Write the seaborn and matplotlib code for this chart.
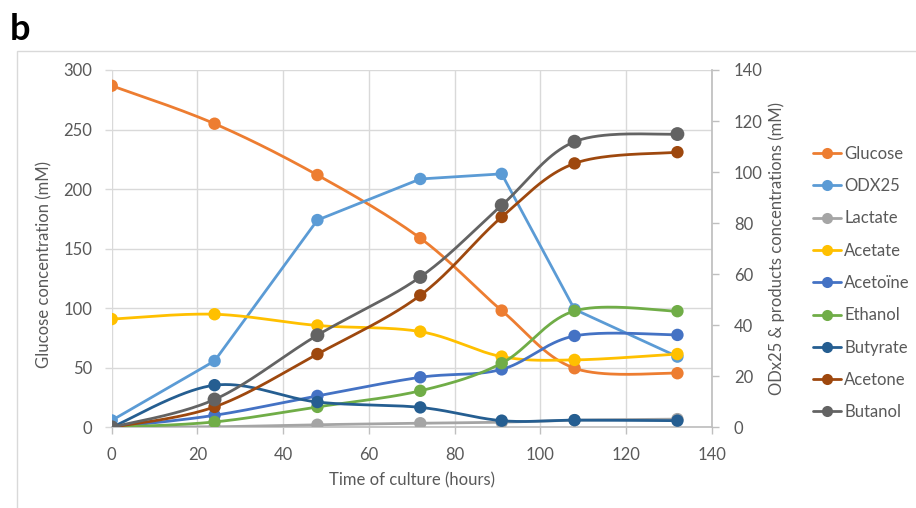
import numpy as np
import pandas as pd
import matplotlib
matplotlib.use("Agg")
import matplotlib.pyplot as plt
from matplotlib.lines import Line2D
from matplotlib.patches import Rectangle
import seaborn as sns

# Sampling times (hours)
times = [0, 24, 48, 72, 91, 108, 132]

# Glucose on the left axis (mM)
glucose = [286.8, 254.9, 211.8, 158.8, 98.0, 49.6, 45.4]

# OD and products on the right axis (mM)
odx25 = [2.7, 26.0, 81.2, 97.3, 99.3, 46.2, 27.7]
lactate = [0.0, 0.2, 1.0, 1.6, 2.0, 2.8, 3.2]
acetate = [42.4, 44.3, 39.9, 37.5, 27.7, 26.4, 28.7]
acetoine = [0.0, 4.7, 12.3, 19.6, 22.7, 35.8, 36.2]
ethanol = [0.0, 2.1, 8.0, 14.3, 25.1, 45.6, 45.5]
butyrate = [0.0, 16.5, 9.9, 7.8, 2.6, 2.8, 2.6]
acetone = [0.0, 8.0, 28.7, 51.7, 82.4, 103.4, 107.8]
butanol = [0.0, 10.9, 36.1, 58.9, 87.0, 111.9, 114.9]

series_names = ["Glucose", "ODX25", "Lactate", "Acetate", "Acetoïne",
                "Ethanol", "Butyrate", "Acetone", "Butanol"]
series_values = [glucose, odx25, lactate, acetate, acetoine,
                 ethanol, butyrate, acetone, butanol]
series_colors = ["#ED7D31", "#5B9BD5", "#A5A5A5", "#FFC000", "#4472C4",
                 "#70AD47", "#255E91", "#9E480E", "#636363"]
smoothed = [True, False, True, True, True, True, True, True, True]

x_ticks = [0, 20, 40, 60, 80, 100, 120, 140]
left_ticks = [0, 50, 100, 150, 200, 250, 300]
right_ticks = [0, 20, 40, 60, 80, 100, 120, 140]


def smooth_curve(xs, ys, n=40):
    """Cubic Bezier through the points, Catmull-Rom style tangents."""
    p = np.column_stack([xs, ys]).astype(float)
    ext = np.vstack([p[0], p, p[-1]])
    t = np.linspace(0, 1, n)[:, None]
    out = []
    for i in range(len(p) - 1):
        p0, p1 = ext[i + 1], ext[i + 2]
        c1 = p0 + (ext[i + 2] - ext[i]) / 6.0
        c2 = p1 - (ext[i + 3] - ext[i + 1]) / 6.0
        seg = ((1 - t) ** 3) * p0 + 3 * ((1 - t) ** 2) * t * c1 \
            + 3 * (1 - t) * t ** 2 * c2 + t ** 3 * p1
        out.append(seg if i == 0 else seg[1:])
    seg = np.vstack(out)
    return seg[:, 0], seg[:, 1]


sns.set_theme(style="white")
plt.rcParams["font.family"] = ["Lato", "DejaVu Sans"]
text_color = "#595959"
grid_color = "#D9D9D9"
axis_color = "#BFBFBF"

fig = plt.figure(figsize=(9.16, 5.08), dpi=100)
ax = fig.add_axes([111.7 / 916, 1 - 427.3 / 508, 600 / 916, 357.3 / 508])
ax2 = ax.twinx()

# Outer chart border
fig.patches.append(Rectangle((17 / 916, -0.1), 1.1, 1 - 51 / 508 + 0.1,
                             transform=fig.transFigure, fill=False,
                             edgecolor=grid_color, lw=1.0))

for i, (name, vals, col, sm) in enumerate(zip(series_names, series_values,
                                              series_colors, smoothed)):
    target = ax if name == "Glucose" else ax2
    if sm:
        cx, cy = smooth_curve(times, vals)
    else:
        cx, cy = np.array(times, float), np.array(vals, float)
    curve = pd.DataFrame({"t": cx, "v": cy})
    pts = pd.DataFrame({"t": times, "v": vals})
    sns.lineplot(data=curve, x="t", y="v", ax=target, color=col, lw=2.0,
                 sort=False, estimator=None, zorder=3 + 2 * i, legend=False)
    msize = 100 if name == "Butanol" else 80
    sns.scatterplot(data=pts, x="t", y="v", ax=target, color=col, s=msize,
                    edgecolor="none", linewidth=0, zorder=4 + 2 * i,
                    legend=False)

ax.set_xlim(0, 140)
ax.set_ylim(0, 300)
ax2.set_ylim(0, 140)
ax.set_xticks(x_ticks)
ax.set_yticks(left_ticks)
ax2.set_yticks(right_ticks)

ax.grid(True, color=grid_color, lw=1.0)
ax2.grid(False)
ax.set_axisbelow(True)

for a in (ax, ax2):
    for s in a.spines.values():
        s.set_visible(False)
ax.spines["bottom"].set_visible(True)
ax.spines["bottom"].set_color(axis_color)
ax2.spines["right"].set_visible(True)
ax2.spines["right"].set_color(axis_color)
ax2.spines["bottom"].set_visible(False)

ax.tick_params(axis="x", direction="out", length=5, width=1, color=axis_color,
               labelsize=12, labelcolor=text_color, pad=9, bottom=True)
ax.tick_params(axis="y", direction="out", length=5, width=1, color=grid_color,
               labelsize=12, labelcolor=text_color, pad=9, left=True)
ax2.tick_params(axis="y", direction="out", length=5, width=1, color=axis_color,
                labelsize=12, labelcolor=text_color, pad=11, right=True)

ax.set_xlabel("Time of culture (hours)", fontsize=12, color=text_color)
ax.xaxis.set_label_coords(0.5, -0.127)
ax.set_ylabel("Glucose concentration (mM)", fontsize=12, color=text_color,
              va="center")
ax.yaxis.set_label_coords(-0.113, 0.455)
ax2.set_ylabel("ODx25 & products concentrations (mM)", fontsize=12,
               color=text_color, va="center", rotation=90)
ax2.yaxis.set_label_coords(1.109, 0.5)

handles = [Line2D([0], [0], color=c, lw=2.0, marker="o", markersize=8,
                  markeredgewidth=0) for c in series_colors]
leg = fig.legend(handles, series_names, loc="upper left",
                 bbox_to_anchor=(806 / 916, 1 - 139 / 508), frameon=False,
                 fontsize=12, handlelength=1.7, handletextpad=0.2,
                 labelspacing=0.98, borderaxespad=0)
for t in leg.get_texts():
    t.set_color(text_color)

fig.text(10 / 916, 1 - 40 / 508, "b", fontsize=26, fontweight="bold",
         color="black", ha="left", va="baseline")

fig.savefig("out.png", dpi=100)
